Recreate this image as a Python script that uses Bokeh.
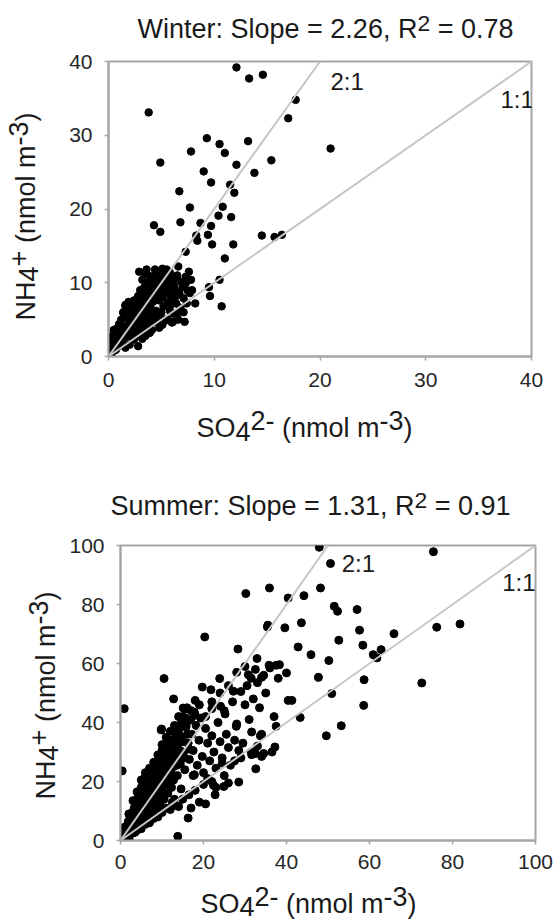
import math
from bokeh.plotting import figure
from bokeh.models import Range1d, FixedTicker, Label
from bokeh.layouts import column, row
from bokeh.embed import file_html
from bokeh.resources import INLINE

# ---------------- data ----------------
winter_ticks = [0, 10, 20, 30, 40]
summer_ticks = [0, 20, 40, 60, 80, 100]
winter_range = [0, 40]
summer_range = [0, 100]
ratio_slopes = [1, 2]
ratio_labels = ["1:1", "2:1"]

winter_title = ["Winter: Slope = 2.26, R", "2", " = 0.78"]
summer_title = ["Summer: Slope = 1.31, R", "2", " = 0.91"]
x_label_parts = ["SO", "4", "2-", " (nmol m", "-3", ")"]
y_label_parts = ["NH", "4", "+", " (nmol m", "-3", ")"]

winter_outer_so4 = [12.1, 13.3, 14.6, 3.8, 17.7, 17.0, 21.0, 9.3, 10.5, 13.2,
                    11.0, 7.8, 4.9, 15.4, 12.1, 9.0, 13.8, 9.7, 11.5, 6.7,
                    11.9, 7.7, 10.8, 10.4, 11.6, 6.8, 8.7, 9.7, 4.3, 4.9,
                    8.3, 9.4, 8.4, 14.5, 15.7, 16.4, 9.8, 11.8, 7.3, 11.0,
                    10.5, 9.5, 9.6, 10.7, 8.2, 7.2, 6.1]
winter_outer_nh4 = [39.2, 37.7, 38.2, 33.1, 34.8, 32.3, 28.2, 29.6, 28.8, 29.2,
                    27.6, 27.8, 26.3, 26.6, 26.0, 25.1, 24.9, 23.6, 23.3, 22.4,
                    22.2, 20.2, 20.3, 19.1, 18.9, 18.2, 18.1, 17.7, 17.8, 16.9,
                    16.4, 16.5, 15.7, 16.4, 16.2, 16.5, 15.2, 15.2, 14.2, 13.3,
                    10.4, 9.4, 8.2, 6.8, 7.2, 4.7, 4.7]
winter_core_so4 = [0.1, 0.2, 0.3, 0.4, 0.5, 0.3, 0.6, 0.8, 0.9, 1.0,
                   1.1, 1.2, 1.3, 1.4, 1.5, 1.6, 1.7, 1.8, 1.9, 2.0,
                   2.0, 2.1, 2.2, 2.3, 2.4, 2.5, 2.6, 2.6, 2.7, 2.8,
                   2.9, 3.0, 3.0, 3.1, 3.2, 3.3, 3.3, 3.4, 3.5, 3.5,
                   3.6, 3.7, 3.8, 3.8, 3.9, 4.0, 4.0, 4.1, 4.2, 4.2,
                   4.3, 4.4, 4.4, 4.5, 4.6, 4.6, 4.7, 4.8, 4.9, 5.0,
                   5.0, 5.1, 5.2, 5.3, 5.4, 5.5, 5.6, 5.7, 5.8, 5.9,
                   6.0, 6.1, 6.2, 6.3, 6.4, 6.5, 6.7, 6.8, 7.0, 7.1,
                   7.3, 7.5, 7.8]
winter_core_nh4 = [0.2, 0.5, 0.4, 1.0, 0.8, 1.6, 1.4, 1.2, 2.0, 1.5,
                   2.6, 2.2, 1.8, 3.0, 2.5, 3.6, 2.9, 4.2, 3.4, 2.7,
                   4.8, 3.9, 5.4, 4.4, 3.3, 5.0, 6.0, 4.0, 2.8, 5.6,
                   6.6, 4.6, 3.4, 7.1, 5.8, 6.3, 3.9, 7.6, 5.2, 8.4,
                   6.8, 4.4, 7.9, 9.2, 5.8, 8.6, 6.5, 3.6, 9.7, 7.4,
                   5.0, 10.3, 8.2, 6.2, 9.0, 4.6, 10.8, 7.6, 5.6, 9.6,
                   8.4, 11.2, 6.8, 10.0, 4.9, 8.9, 7.4, 10.6, 6.2, 9.3,
                   8.0, 10.2, 5.8, 9.0, 7.2, 11.0, 8.6, 6.6, 9.4, 7.9,
                   9.9, 8.9, 10.4]
winter_edge_so4 = [0.5, 0.8, 1.0, 1.2, 1.4, 1.6, 1.9, 2.2, 2.4, 2.8,
                   3.0, 3.2, 3.4, 2.9, 3.6, 4.4, 5.1, 5.5, 6.6, 7.6,
                   6.4, 7.3, 3.9, 4.6, 5.8, 2.8, 2.4, 3.9, 5.1, 6.6,
                   7.7, 7.9, 3.5, 4.8, 5.6, 6.0, 7.1, 2.0, 1.6, 3.2,
                   0.5, 0.3, 0.9, 1.6, 1.9, 1.4, 0.2, 0.6]
winter_edge_nh4 = [3.4, 3.8, 4.4, 5.0, 6.0, 6.8, 7.2, 6.5, 7.6, 8.2,
                   9.0, 10.4, 11.3, 11.5, 11.8, 11.8, 11.9, 11.8, 12.2, 11.5,
                   10.6, 10.8, 10.9, 11.5, 11.4, 1.4, 2.3, 3.2, 4.3, 5.0,
                   8.6, 9.0, 2.8, 3.9, 5.1, 4.6, 6.0, 1.6, 1.2, 2.4,
                   3.6, 1.8, 3.8, 7.0, 7.4, 5.9, 2.6, 2.7]
winter_fill_so4 = [1.2, 1.5, 1.8, 2.1, 2.3, 2.5, 2.7, 2.9, 3.1, 3.2,
                   3.4, 3.6, 3.7, 3.9, 4.1, 4.3, 4.5, 4.7, 4.9, 5.1,
                   5.3, 5.4, 5.6, 5.8, 6.0, 6.2, 6.4, 6.9, 5.0, 4.0,
                   3.0, 2.2, 1.4, 0.7, 1.0, 5.9, 6.6, 7.4, 4.4, 3.6]
winter_fill_nh4 = [3.2, 4.0, 5.2, 6.1, 5.0, 6.8, 7.4, 4.9, 6.0, 8.6,
                   9.4, 7.2, 10.0, 8.1, 9.0, 10.8, 7.8, 9.4, 10.4, 8.0,
                   9.1, 11.0, 9.8, 8.4, 10.8, 9.6, 8.2, 10.1, 6.0, 4.8,
                   5.2, 3.0, 1.6, 0.9, 2.8, 7.0, 6.0, 7.2, 5.4, 3.2]

summer_outer_so4 = [47.9, 50.6, 75.4, 30.2, 35.9, 48.2, 40.4, 44.2, 51.5, 52.3,
                    57.0, 35.4, 35.5, 43.6, 39.6, 57.6, 76.2, 81.8, 65.9, 20.3,
                    52.6, 58.4, 42.8, 28.3, 45.9, 60.9, 62.8, 61.8, 50.2, 32.9,
                    35.8, 37.5, 38.3, 40.0, 58.7, 72.6, 47.7, 30.8, 34.0, 10.5,
                    23.9, 19.7, 21.8, 27.2, 50.9, 40.4, 41.3, 58.6, 12.8, 0.9,
                    15.1, 22.0, 24.1, 25.2, 43.3, 37.5, 53.2, 49.6, 31.6, 33.7,
                    37.2, 9.9, 27.9, 31.6, 34.0, 32.6, 28.5, 24.5, 22.4, 22.8,
                    20.5, 16.3, 13.8, 0.4, 2.1, 17.8, 24.9]
summer_outer_nh4 = [99.4, 93.9, 97.9, 83.7, 85.6, 85.6, 82.2, 83.0, 79.4, 77.7,
                    78.3, 72.4, 73.0, 73.8, 72.1, 71.3, 72.3, 73.4, 70.1, 69.0,
                    67.9, 66.2, 65.6, 64.9, 63.0, 63.0, 64.7, 61.9, 61.0, 61.7,
                    59.4, 59.4, 59.6, 56.8, 54.5, 53.4, 55.3, 56.2, 55.3, 54.9,
                    54.9, 52.0, 51.1, 50.6, 49.8, 47.5, 47.5, 45.8, 48.0, 44.7,
                    44.9, 44.7, 45.5, 42.9, 41.7, 38.7, 38.9, 35.5, 36.8, 35.5,
                    31.7, 37.8, 38.7, 29.1, 28.5, 24.3, 19.8, 26.2, 18.7, 15.5,
                    12.4, 7.6, 1.4, 23.6, 0.2, 22.3, 18.3]
summer_core_so4 = [0.3, 0.5, 0.8, 1.0, 1.2, 1.4, 1.5, 1.7, 1.9, 2.0,
                   2.2, 2.4, 2.5, 2.7, 2.9, 3.0, 3.2, 3.3, 3.5, 3.6,
                   3.8, 3.9, 4.0, 4.2, 4.3, 4.5, 4.6, 4.8, 4.9, 5.0,
                   5.1, 5.3, 5.4, 5.6, 5.7, 5.9, 6.0, 6.1, 6.3, 6.4,
                   6.6, 6.7, 6.9, 7.0, 7.2, 7.3, 7.5, 7.6, 7.8, 8.0,
                   8.1, 8.3, 8.4, 8.6, 8.8, 8.9, 9.0, 9.2, 9.4, 9.5,
                   9.7, 9.9, 10.0, 10.2, 10.3, 10.5, 10.7, 10.8, 11.0, 11.2,
                   11.4, 11.5, 11.7, 11.9, 12.0, 12.3, 12.5, 12.7, 12.9, 13.0,
                   13.3, 13.5, 13.7, 14.0, 14.2, 14.4, 14.6, 14.8, 15.0, 15.2,
                   15.5, 15.8, 16.0, 16.3, 16.6, 16.9, 17.2, 17.5, 17.8, 18.2,
                   18.5, 18.9, 19.3, 19.7]
summer_core_nh4 = [0.5, 1.5, 2.4, 0.8, 3.5, 2.0, 5.0, 3.2, 6.5, 1.8,
                   4.5, 8.0, 3.0, 6.0, 9.5, 4.2, 7.5, 11.0, 2.8, 5.8,
                   9.0, 12.8, 7.0, 14.5, 4.5, 10.5, 16.0, 8.0, 12.0, 18.0,
                   5.5, 14.0, 19.5, 9.5, 21.0, 16.0, 7.0, 12.5, 18.5, 22.5,
                   10.0, 15.0, 20.5, 8.0, 17.0, 23.0, 12.5, 19.5, 9.5, 21.5,
                   14.5, 24.5, 17.5, 11.0, 22.5, 26.0, 15.5, 19.5, 28.0, 12.0,
                   24.0, 17.5, 30.5, 21.5, 26.5, 14.0, 29.0, 19.0, 31.5, 24.0,
                   16.0, 27.0, 33.5, 21.0, 29.5, 18.0, 34.0, 25.0, 31.0, 14.0,
                   36.0, 28.0, 22.0, 33.0, 38.0, 26.0, 17.5, 35.0, 42.0, 30.0,
                   24.0, 38.5, 45.0, 33.0, 27.5, 41.0, 36.0, 30.5, 43.5, 39.0,
                   25.5, 34.0, 41.5, 28.5]
summer_upper_so4 = [1.0, 2.0, 3.0, 4.0, 5.0, 6.0, 7.0, 8.0, 9.0, 10.0,
                    11.0, 12.0, 13.0, 14.0, 15.5, 17.0, 18.0, 9.8]
summer_upper_nh4 = [4.5, 9.0, 13.5, 16.5, 20.5, 23.0, 24.5, 26.5, 29.0, 32.5,
                    35.0, 37.0, 39.0, 42.0, 44.5, 44.0, 42.5, 37.5]
summer_lower_so4 = [2.0, 4.0, 6.0, 8.0, 10.0, 11.0, 12.0, 13.0, 15.0, 16.5,
                    9.0, 7.0, 5.0, 3.0, 14.0, 18.0, 20.0, 19.0, 22.0, 17.0, 12.5]
summer_lower_nh4 = [1.2, 3.5, 5.5, 7.5, 9.5, 11.0, 10.5, 12.0, 14.0, 15.5,
                    8.0, 6.0, 4.0, 2.5, 11.5, 17.0, 19.0, 13.0, 20.0, 11.0, 13.0]
summer_mid_so4 = [20.5, 21.0, 21.5, 22.0, 22.5, 23.0, 23.5, 24.0, 24.5, 25.0,
                  25.5, 26.0, 26.5, 27.0, 27.5, 28.0, 28.5, 29.0, 29.5, 30.0,
                  30.5, 31.0, 31.5, 32.0, 32.5, 33.0, 33.5, 34.0, 34.5, 35.0,
                  36.0, 36.5, 37.0, 38.0, 20.0, 21.0, 23.0, 25.0, 26.0, 27.5,
                  29.0, 31.5, 33.0, 34.5, 24.0, 22.0, 26.0, 28.0, 30.0, 32.5,
                  19.0, 20.5, 18.0, 16.0, 17.5]
summer_mid_nh4 = [38.0, 33.0, 27.0, 35.5, 30.0, 24.5, 40.0, 33.5, 28.0, 44.0,
                  36.0, 31.5, 25.5, 47.0, 34.0, 39.5, 30.5, 50.5, 33.0, 46.0,
                  52.5, 41.0, 55.0, 48.0, 29.5, 53.5, 45.0, 36.0, 56.0, 50.0,
                  58.5, 30.0, 42.0, 55.0, 23.0, 21.0, 18.0, 22.0, 19.5, 27.0,
                  28.0, 30.0, 32.0, 29.5, 50.0, 47.0, 52.5, 57.0, 59.0, 58.0,
                  46.0, 42.0, 47.5, 40.0, 22.0]
summer_fill_so4 = [1.3, 1.8, 2.3, 2.8, 3.1, 3.4, 3.7, 4.1, 4.4, 4.7,
                   5.2, 5.5, 5.8, 6.2, 6.5, 6.8, 7.1, 7.4, 7.7, 7.9,
                   8.2, 8.5, 8.7, 9.1, 9.3, 9.6, 9.8, 10.1, 10.4, 10.6,
                   10.9, 11.1, 11.3, 11.6, 11.8, 12.2, 12.4, 12.6, 12.8, 13.1,
                   13.4, 13.6, 13.9, 14.3, 14.7, 15.1, 15.4, 15.7, 16.1, 16.5]
summer_fill_nh4 = [4.5, 4.2, 6.5, 7.8, 9.0, 6.5, 10.8, 11.8, 8.8, 13.5,
                   11.0, 16.5, 13.0, 15.5, 19.0, 12.5, 21.0, 15.0, 22.5, 17.5,
                   19.5, 25.5, 14.0, 22.0, 25.5, 20.5, 27.0, 16.5, 24.0, 28.0,
                   22.0, 30.0, 19.0, 25.5, 31.0, 23.0, 27.5, 32.5, 20.5, 30.0,
                   33.5, 25.5, 36.5, 30.5, 40.0, 33.5, 28.0, 41.5, 36.0, 31.0]

winter_so4 = winter_outer_so4 + winter_core_so4 + winter_edge_so4 + winter_fill_so4
winter_nh4 = winter_outer_nh4 + winter_core_nh4 + winter_edge_nh4 + winter_fill_nh4
summer_so4 = (summer_outer_so4 + summer_core_so4 + summer_upper_so4
              + summer_lower_so4 + summer_mid_so4 + summer_fill_so4)
summer_nh4 = (summer_outer_nh4 + summer_core_nh4 + summer_upper_nh4
              + summer_lower_nh4 + summer_mid_nh4 + summer_fill_nh4)

# ---------------- style ----------------
FONT = "Liberation Sans"
TXT = "#1a1a1a"
FRAME = "#a6a6a6"
REFLINE = "#c6c6c6"
PAGE_W = 556
BASE_K = 0.37   # compensation: rendered baseline sits ~0.37 em below the anchor

AW = {' ': 278, '(': 333, ')': 333, '+': 584, '-': 333, '.': 278, ',': 278,
      ':': 278, '=': 584, 'S': 667, 'O': 778, 'N': 722, 'H': 722, 'R': 722,
      'W': 944, 'a': 556, 'e': 556, 'i': 222, 'l': 222, 'm': 833, 'n': 556,
      'o': 556, 'p': 556, 'r': 333, 't': 278, 'u': 556}


def tw(s, size):
    return sum(AW.get(c, 556) for c in s) / 1000.0 * size


class Geo:
    """maps page pixels to the data space of a figure's frame"""
    def __init__(self, left, top, fw, fh, xr, yr):
        self.left, self.top, self.fw, self.fh = left, top, fw, fh
        self.xr, self.yr = xr, yr

    def data(self, px, py):
        xd = self.xr[0] + (px - self.left) / self.fw * (self.xr[1] - self.xr[0])
        yd = self.yr[1] - (py - self.top) / self.fh * (self.yr[1] - self.yr[0])
        return xd, yd


def rich(p, g, segs, px, py, size, vertical=False):
    pos = 0.0
    for text, shift, scale in segs:
        fs = size * scale
        body = text.lstrip(" ")
        lead = tw(text[:len(text) - len(body)], fs)
        body = body.rstrip(" ")
        off = pos + lead
        up = shift + BASE_K * fs
        if vertical:
            sx, sy = px - up, py - off
        else:
            sx, sy = px + off, py - up
        xd, yd = g.data(sx, sy)
        p.add_layout(Label(x=xd, y=yd, text=body, text_font=FONT,
                           text_font_size=f"{fs:.1f}px", text_color=TXT,
                           text_align="left", text_baseline="alphabetic",
                           angle=(math.pi / 2 if vertical else 0)))
        pos += tw(text, fs)


def seg_len(segs, size):
    return sum(tw(t, size * sc) for t, _, sc in segs)


def aux(w, h, page_left, page_top, mbt=0, mbb=0):
    fh = h - mbt - mbb
    p = figure(width=w, height=h, output_backend="svg", toolbar_location=None,
               title=None,
               x_range=Range1d(0, w), y_range=Range1d(0, fh),
               x_axis_location=None, y_axis_location=None,
               min_border=0, min_border_left=0, min_border_right=0,
               min_border_top=mbt, min_border_bottom=mbb)
    p.outline_line_color = None
    p.grid.visible = False
    p.background_fill_color = "white"
    p.border_fill_color = "white"
    return p, Geo(page_left, page_top + mbt, w, fh, (0, w), (0, fh))


def main_plot(so4, nh4, rng, ticks, w, h, mbl, mbr, mbt, mbb, page_left, page_top,
              dot, xstand):
    p = figure(width=w, height=h, output_backend="svg", toolbar_location=None,
               title=None,
               x_range=Range1d(rng[0], rng[1]), y_range=Range1d(rng[0], rng[1]),
               min_border_left=mbl, min_border_right=mbr,
               min_border_top=mbt, min_border_bottom=mbb)
    p.background_fill_color = "white"
    p.border_fill_color = "white"
    p.outline_line_color = FRAME
    p.outline_line_width = 2
    p.grid.visible = False
    for ax in (p.xaxis, p.yaxis):
        ax.ticker = FixedTicker(ticks=ticks)
        ax.axis_line_color = FRAME
        ax.axis_line_width = 2
        ax.major_tick_line_color = FRAME
        ax.major_tick_line_width = 1.5
        ax.major_tick_out = 4
        ax.major_tick_in = 0
        ax.minor_tick_out = 0
        ax.minor_tick_in = 0
        ax.major_label_text_font = FONT
        ax.major_label_text_font_size = "21px"
        ax.major_label_text_color = "#262626"
        ax.major_label_standoff = 12
    p.xaxis.major_label_standoff = xstand
    p.scatter(so4, nh4, size=dot, color="black", line_color="black")
    for s in ratio_slopes:
        xe = min(rng[1], rng[1] / s)
        p.line([rng[0], xe], [rng[0], xe * s], line_color=REFLINE, line_width=2)
    fw = w - mbl - mbr
    fh = h - mbt - mbb
    return p, Geo(page_left + mbl, page_top + mbt, fw, fh, rng, rng)


def title(p, g, parts, cx, base):
    segs = [(parts[0], 0, 1), (parts[1], 7, 0.85), (parts[2], 0, 1)]
    L = seg_len(segs, 27)
    rich(p, g, segs, cx - L / 2, base, 27)


def xlabel(p, g, x0, base, sub=4, sup=7):
    segs = [(x_label_parts[0], 0, 1), (x_label_parts[1], -sub, 1), (x_label_parts[2], sup, 1),
            (x_label_parts[3], 0, 1), (x_label_parts[4], sup, 1), (x_label_parts[5], 0, 1)]
    rich(p, g, segs, x0, base, 27)


def ylabel(p, g, basex, cy):
    segs = [(y_label_parts[0], 0, 1), (y_label_parts[1], -3, 1), (y_label_parts[2], 7, 1),
            (y_label_parts[3], 0, 1), (y_label_parts[4], 7, 1), (y_label_parts[5], 0, 1)]
    L = seg_len(segs, 27)
    rich(p, g, segs, basex, cy + L / 2, 27, vertical=True)


def ratio(p, g, text, px, py):
    rich(p, g, [(text, 0, 1)], px, py, 24)


# ---------------- winter (top) ----------------
t1, gt1 = aux(PAGE_W, 46, 0, 0)
yl1, gy1 = aux(60, 358, 0, 46, mbt=15, mbb=48)
m1, gm1 = main_plot(winter_so4, winter_nh4, winter_range, winter_ticks,
                    PAGE_W - 60, 358, 48, 25, 15, 48, 60, 46, 7.5, 12)
xl1, gx1 = aux(PAGE_W, 56, 0, 404)

title(t1, gt1, winter_title, 325, 38)
ylabel(yl1, gy1, 35, 216)
xlabel(xl1, gx1, 196, 437)
ratio(m1, gm1, ratio_labels[1], 330, 90)
ratio(m1, gm1, ratio_labels[0], 500, 108)

# ---------------- summer (bottom) ----------------
t2, gt2 = aux(PAGE_W, 68, 0, 460)
yl2, gy2 = aux(66, 352, 0, 528, mbt=17, mbb=40)
m2, gm2 = main_plot(summer_so4, summer_nh4, summer_range, summer_ticks,
                    PAGE_W - 66, 352, 45, 21, 17, 40, 66, 528, 8, 10)
xl2, gx2 = aux(PAGE_W, 42, 0, 880)

title(t2, gt2, summer_title, 310, 515)
ylabel(yl2, gy2, 55, 695)
xlabel(xl2, gx2, 200, 913, sub=3, sup=7)
ratio(m2, gm2, ratio_labels[1], 337, 572)
ratio(m2, gm2, ratio_labels[0], 501, 591)

layout = column(t1, row(yl1, m1), xl1, t2, row(yl2, m2), xl2)
open("out.html", "w").write(file_html(layout, INLINE))
